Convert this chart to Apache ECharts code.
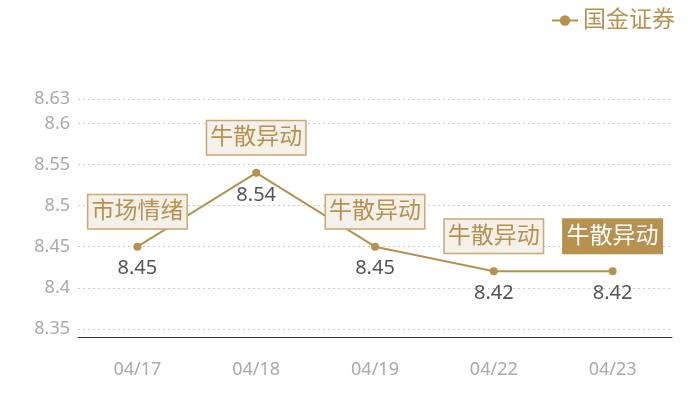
<!DOCTYPE html>
<html style="height: 100%">
<head>
<meta charset="utf-8">
</head>
<body style="height: 100%; margin: 0">
<div id="container" style="width: 700px; height: 400px"></div>
<script src="https://cdn.jsdelivr.net/npm/echarts@6/dist/echarts.min.js"></script>
<script type="text/javascript">
var dates = ['04/17', '04/18', '04/19', '04/22', '04/23'];
var prices = [8.45, 8.54, 8.45, 8.42, 8.42];
var tags = ['市场情绪', '牛散异动', '牛散异动', '牛散异动', '牛散异动'];
var yTicks = [8.35, 8.4, 8.45, 8.5, 8.55, 8.6, 8.63];
var highlightIndex = 4;

var gold = '#b8914f';
var font = '"Noto Sans", "Noto Sans CJK SC", sans-serif';

var myChart = echarts.init(document.getElementById('container'));

var marks = tags.map(function (t, i) {
    var hot = i === highlightIndex;
    return {
        coord: [dates[i], prices[i]],
        label: {
            formatter: t,
            color: hot ? '#fff' : gold,
            backgroundColor: hot ? gold : '#f4f0ea',
            borderColor: hot ? gold : '#caa86e',
            borderWidth: 1.5
        }
    };
});

var option = {
    backgroundColor: '#fff',
    textStyle: { fontFamily: font },
    legend: {
        right: 20,
        top: 4,
        itemWidth: 26,
        itemHeight: 13,
        itemGap: 6,
        textStyle: { color: gold, fontSize: 23, fontFamily: font },
        data: ['国金证券']
    },
    grid: { left: 78, right: 28, top: 99, bottom: 63 },
    xAxis: {
        type: 'category',
        data: dates,
        boundaryGap: true,
        axisLine: { lineStyle: { color: '#333' } },
        axisTick: { show: false },
        axisLabel: { color: '#aaa', fontSize: 18, margin: 24 }
    },
    yAxis: {
        type: 'value',
        min: 8.34,
        max: 8.63,
        axisLine: { show: false },
        axisTick: { show: false, customValues: yTicks },
        axisLabel: { color: '#aaa', fontSize: 18, margin: 8, customValues: yTicks },
        splitLine: { lineStyle: { color: '#ccc', type: [2, 3] } }
    },
    series: [{
        name: '国金证券',
        type: 'line',
        data: prices,
        symbol: 'circle',
        symbolSize: 8,
        color: gold,
        lineStyle: { color: gold, width: 2 },
        label: {
            show: true,
            position: 'bottom',
            distance: 8,
            color: '#555',
            fontSize: 20
        },
        markPoint: {
            symbol: 'circle',
            symbolSize: 1,
            itemStyle: { color: 'transparent' },
            label: {
                show: true,
                position: 'inside',
                offset: [0, -35],
                fontSize: 23,
                lineHeight: 27,
                padding: [4, 3, 2, 3],
                fontFamily: font
            },
            data: marks
        }
    }]
};

myChart.setOption(option);
</script>
</body>
</html>
